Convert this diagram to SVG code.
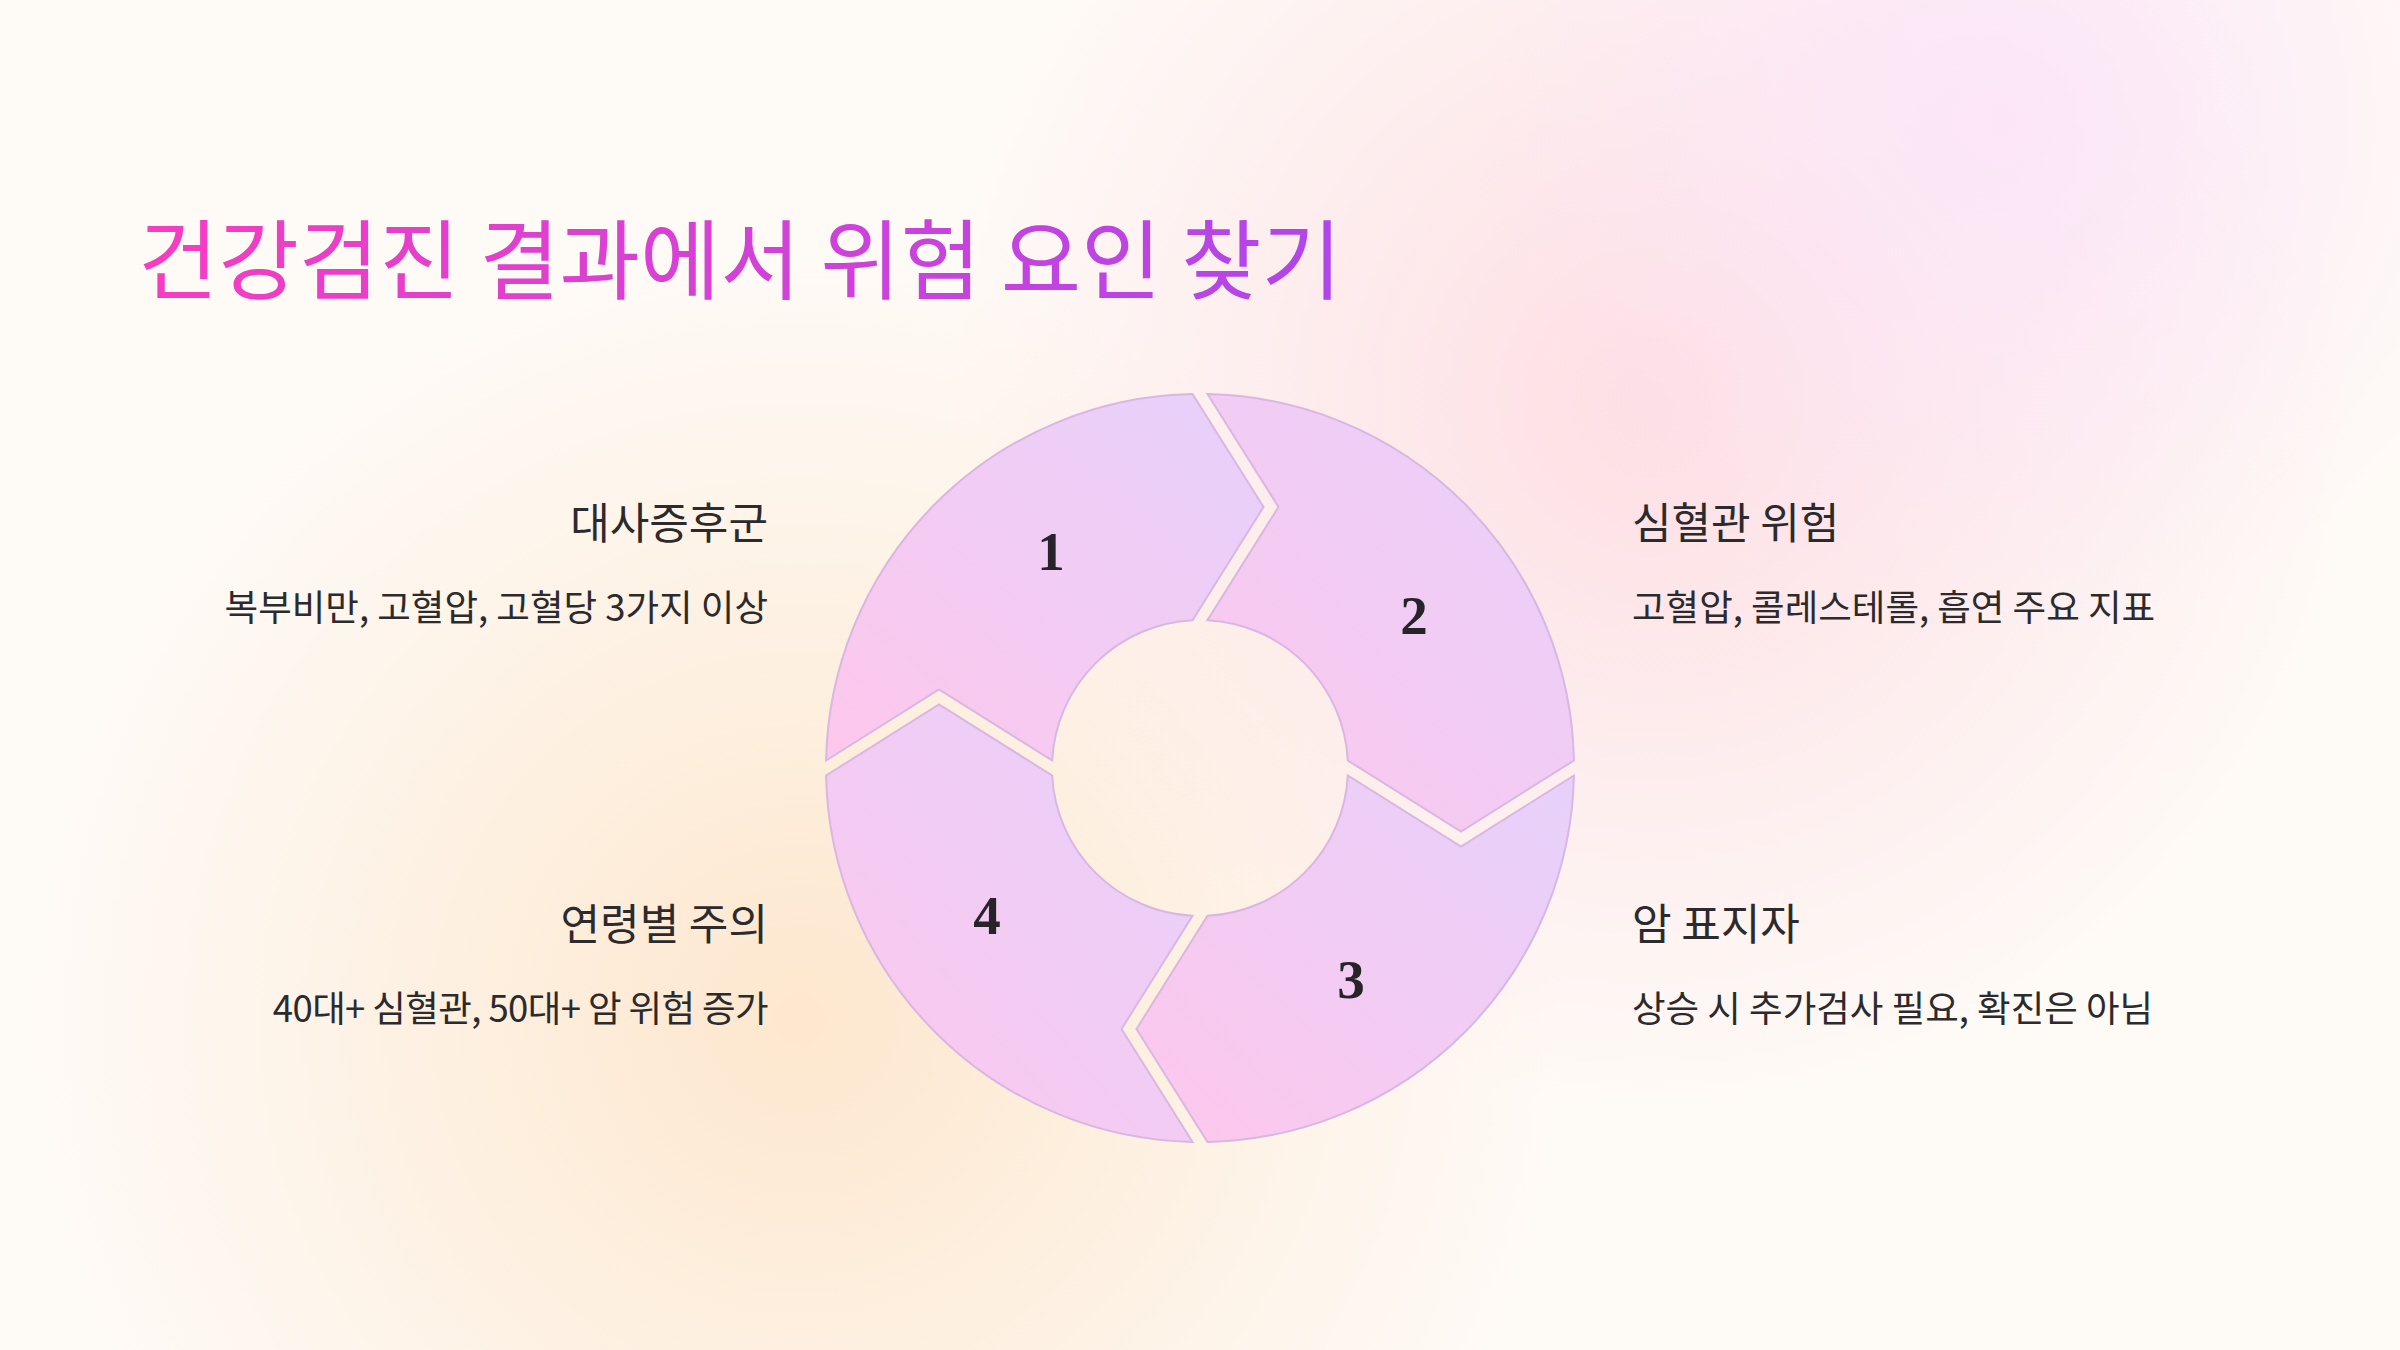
<svg xmlns="http://www.w3.org/2000/svg" width="2400" height="1350" viewBox="0 0 2400 1350">
  <defs>
    <radialGradient id="bgPeach" cx="800" cy="1020" r="760" gradientUnits="userSpaceOnUse">
      <stop offset="0" stop-color="#fde6cc" stop-opacity="0.95"/>
      <stop offset="1" stop-color="#fde6cc" stop-opacity="0"/>
    </radialGradient>
    <radialGradient id="bgPink" cx="1650" cy="400" r="700" gradientUnits="userSpaceOnUse">
      <stop offset="0" stop-color="#fddde3" stop-opacity="0.95"/>
      <stop offset="1" stop-color="#fddde3" stop-opacity="0"/>
    </radialGradient>
    <radialGradient id="bgLav" cx="2000" cy="120" r="520" gradientUnits="userSpaceOnUse">
      <stop offset="0" stop-color="#fbe4f8" stop-opacity="0.9"/>
      <stop offset="1" stop-color="#fbe4f8" stop-opacity="0"/>
    </radialGradient>
    <linearGradient id="titleGrad" x1="138" y1="0" x2="1336" y2="0" gradientUnits="userSpaceOnUse">
      <stop offset="0" stop-color="#f63dc2"/>
      <stop offset="1" stop-color="#b046ea"/>
    </linearGradient>
    <linearGradient id="pieceGrad" x1="0" y1="1" x2="1" y2="0">
      <stop offset="0" stop-color="#fec7ec"/>
      <stop offset="1" stop-color="#e6d1fb"/>
    </linearGradient>
  </defs>
  <style>
    .title { font-family: "Noto Sans CJK KR", "Noto Sans", sans-serif; font-size: 87.4px; fill: url(#titleGrad); }
    .head { font-family: "Noto Sans CJK KR", "Noto Sans", sans-serif; font-size: 43px; fill: #2b2a2c; }
    .sub { font-family: "Noto Sans CJK KR", "Noto Sans", sans-serif; font-size: 36.5px; fill: #2b2a2c; }
    .piece { fill: url(#pieceGrad); stroke: #d8b7e2; stroke-width: 2; }
    .num { font-family: "Liberation Serif", "DejaVu Serif", serif; font-weight: bold; font-size: 55px; fill: #262329; text-anchor: middle; }
    .left { text-anchor: end; }
  </style>
  <rect x="0" y="0" width="2400" height="1350" fill="#fefaf6"/>
  <rect x="0" y="0" width="2400" height="1350" fill="url(#bgPeach)"/>
  <rect x="0" y="0" width="2400" height="1350" fill="url(#bgPink)"/>
  <rect x="0" y="0" width="2400" height="1350" fill="url(#bgLav)"/>

  <text class="title" x="138" y="293">건강검진 결과에서 위험 요인 찾기</text>

  <g id="connectors"></g>

  <g id="step1">
    <path class="piece" d="M826.08,760.5 L939,689.5 L1052.19,760.5 A148,148 0 0 1 1192.5,620.19 L1263.5,507 L1192.5,394.08 A374,374 0 0 0 826.08,760.5 Z"/>
    <text class="num" x="1051" y="570">1</text>
    <text class="head left" x="768" y="539">대사증후군</text>
    <text class="sub left" x="768" y="621">복부비만, 고혈압, 고혈당 3가지 이상</text>
  </g>
  <g id="step2">
    <path class="piece" d="M1207.5,394.08 L1278.5,507 L1207.5,620.19 A148,148 0 0 1 1347.81,760.5 L1461,831.5 L1573.92,760.5 A374,374 0 0 0 1207.5,394.08 Z"/>
    <text class="num" x="1414" y="634">2</text>
    <text class="head" x="1632" y="539">심혈관 위험</text>
    <text class="sub" x="1632" y="621">고혈압, 콜레스테롤, 흡연 주요 지표</text>
  </g>
  <g id="step3">
    <path class="piece" d="M1573.92,775.5 L1461,846.5 L1347.81,775.5 A148,148 0 0 1 1207.5,915.81 L1136.5,1029 L1207.5,1141.92 A374,374 0 0 0 1573.92,775.5 Z"/>
    <text class="num" x="1351" y="998">3</text>
    <text class="head" x="1632" y="940">암 표지자</text>
    <text class="sub" x="1632" y="1022">상승 시 추가검사 필요, 확진은 아님</text>
  </g>
  <g id="step4">
    <path class="piece" d="M1192.5,1141.92 L1121.5,1029 L1192.5,915.81 A148,148 0 0 1 1052.19,775.5 L939,704.5 L826.08,775.5 A374,374 0 0 0 1192.5,1141.92 Z"/>
    <text class="num" x="987" y="934">4</text>
    <text class="head left" x="768" y="940">연령별 주의</text>
    <text class="sub left" x="768" y="1022" letter-spacing="-0.6">40대+ 심혈관, 50대+ 암 위험 증가</text>
  </g>
</svg>
